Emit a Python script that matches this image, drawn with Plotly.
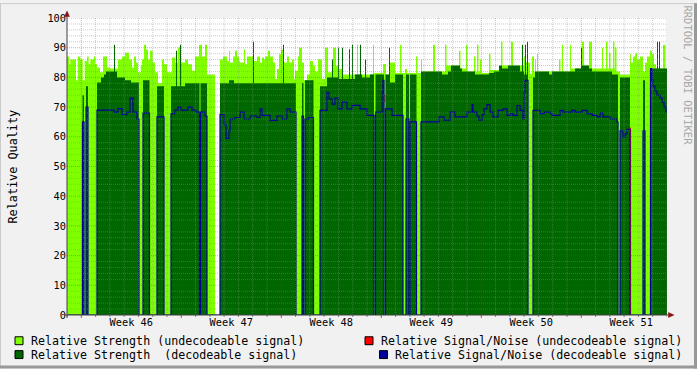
import plotly.graph_objects as go

# ---------------- data ----------------
# time axis: RRD consolidation steps (1 step = 1.68 h, 600 steps = 6 weeks)
STEP_HOURS = 1.68

week_labels = ["Week 46", "Week 47", "Week 48", "Week 49", "Week 50", "Week 51"]
week_mid_hours = [108, 276, 444, 612, 780, 948]
week_start_hours = [24, 192, 360, 528, 696, 864]
y_ticks = [0, 10, 20, 30, 40, 50, 60, 70, 80, 90, 100]

# Relative Strength (undecodeable signal) - step start / value
lg_t = [0, 2, 3.3, 9, 10.7, 13.3, 15.7, 17.7, 20, 21.7,
        23.3, 26.7, 28.3, 30, 33, 36, 40, 43, 51, 55,
        58, 62, 65, 67, 69, 71, 73.7, 75, 77, 79,
        81, 83, 85.7, 88, 91, 95, 97, 100, 105, 108,
        111, 114, 118, 121, 125, 128, 132, 135, 138, 140,
        148, 153, 156, 160, 162, 163, 166, 168, 170, 172,
        173, 177, 178, 180, 187, 190, 193, 195, 197, 198,
        201, 203, 206, 208, 210, 212, 214, 216, 220, 222,
        225, 227, 228, 231, 232, 235, 237, 240, 243, 246,
        248, 251, 255, 258, 261, 265, 266, 269, 272, 276,
        290, 291, 306, 307, 316, 319, 323, 328, 333, 334.5,
        338, 340, 349, 350.5, 354, 355, 366, 368, 378, 379.5,
        392, 393.5, 399, 400.5, 407, 408.5, 410, 411.5, 413, 414.5,
        422, 423.5, 434, 435.5, 444, 446, 457, 458.5, 463, 465,
        467, 468, 469, 470, 471, 492, 493.5, 495, 496, 503,
        504, 515, 517, 522, 525, 535, 536, 539, 540.5, 542,
        543.5, 546, 547.5, 548, 549.5, 553, 563, 564, 566, 568,
        569, 570, 573, 576, 578, 580, 583, 585, 587, 589,
        596, 598.5, 600]
lg_v = [87, 84.4, 86, 79, 87, 86, 79, 85.5, 87, 84.4,
        86, 87, 84.4, 83.3, 81.7, 87, 83.3, 83, 86, 87,
        88.3, 86, 83.3, 87, 85, 81.7, 84, 86, 91, 89.4,
        86, 89, 85, 81.7, 78, 86, 84.4, 81.7, 86.7, 85,
        90, 85, 86, 84.4, 82.2, 87, 91, 87, 91, 81,
        0, 86, 87, 85.5, 89, 85, 87, 89, 87, 85.5,
        85, 89.4, 84.4, 87, 85.5, 87, 85, 86.7, 86, 87,
        89, 87, 85, 79.5, 82.8, 87.8, 89.4, 85, 87, 85,
        86, 79.5, 82.2, 87, 90, 85, 79, 81, 85.5, 84,
        82, 86, 79.5, 90, 81.7, 82, 90, 83.9, 82.8, 81,
        91, 81, 91, 81.5, 84.5, 81, 85, 81.5, 91, 81.5,
        82.8, 81.5, 87, 81.5, 86, 82, 91, 82, 91, 84,
        89, 83, 91, 82, 87, 82, 91, 82, 86, 81.5,
        88, 82.5, 92, 84, 92, 84, 87, 85, 81.2, 87,
        82, 86, 82, 88, 82, 86, 82, 91, 82, 91,
        83, 92, 84, 92, 83, 90, 83, 92, 83, 88.3,
        83, 92, 83, 90, 82, 81, 87.8, 85, 87, 87.8,
        88.3, 86, 87, 82, 85, 87, 89, 87.8, 84.4, 83,
        91, 83, 83]

# Relative Strength (decodeable signal)
dg_t = [0, 15.5, 17, 19, 21, 30, 34, 37, 39, 47,
        48, 50, 58, 64, 72, 76, 82.5, 90, 97, 104,
        109, 110, 113, 114, 118, 132.5, 133.5, 140, 153, 162,
        167, 186, 187, 216, 217, 229, 235, 236.5, 238, 246.5,
        253, 260, 265, 266, 271, 272, 275, 276, 282, 283,
        285, 286, 288, 293, 294, 295, 298, 299, 303, 307,
        308.5, 317, 318.5, 322, 323, 328, 336, 339, 342, 343,
        349.5, 354, 375, 381, 384, 393, 395, 408, 422, 427,
        432, 435, 441, 453, 455, 456, 457, 458, 459, 460,
        461, 466, 468, 482, 485, 508, 514, 515, 522, 525,
        545, 551, 553, 563, 576, 578, 583.5, 590, 591, 592,
        593, 600]
dg_v = [0, 74, 0, 77, 0, 78.3, 80, 81, 82, 91,
        82, 80, 79, 78.3, 0, 79, 0, 77, 0, 77,
        89, 77, 91, 77, 78, 0, 78, 0, 78, 79,
        78, 92, 78, 91, 78, 0, 78, 0, 79, 0,
        77, 80, 86, 80, 90, 79.5, 90, 79.5, 89.5, 79.5,
        91, 79.5, 81, 91, 81, 80, 86, 80, 81, 0,
        81, 0, 81, 90, 78.3, 81, 0, 81, 0, 81,
        0, 82, 81, 82, 84, 83, 82, 81, 81.5, 82,
        84, 83, 84, 82, 91, 82, 81, 91, 81, 92,
        0, 80, 82, 81, 82, 83, 90, 84, 83, 82,
        81, 0, 80, 0, 79, 0, 83, 92, 83, 92,
        83, 83]

# Relative Signal/Noise (undecodeable signal)
snu_t = [317.2, 318.0, 318.1, 562.6, 563.6]
snu_v = [74, 71.7, None, 63, 0]

# Relative Signal/Noise (decodeable signal)
snd_t = [0, 15.5, 17, 19, 21, 30, 47, 51, 55, 60,
         63, 66, 70, 72, 76, 82.5, 90, 97, 104, 108,
         111, 114, 121, 125, 129, 132.5, 133.5, 138, 140, 153,
         157, 159, 162, 163, 168, 173, 177, 183, 190, 193,
         195, 203, 210, 215, 220, 223, 229, 235, 236.5, 238,
         242, 246.5, 253, 260, 262, 265, 268, 271, 275, 280,
         285, 293, 300, 307, 308.5, 315, 316, 317, 318.5, 325,
         336, 339, 342, 343, 349.5, 354, 372, 377, 383, 388,
         393, 400, 405, 406, 410, 412, 415, 417, 420, 423,
         426, 431, 436, 440, 443, 446, 450, 453, 456, 457,
         458, 461, 466, 473, 477, 483, 485, 493, 496, 505,
         508, 515, 520, 525, 530, 533, 536, 543, 550, 551,
         553, 556, 558, 560, 563, 576, 578, 583.5, 585, 586,
         588, 590, 593, 595, 597, 599, 600]
snd_v = [0, 65, 0, 70, 0, 69, 68.3, 69.5, 67.5, 68.3,
         73, 68.3, 66, 0, 68, 0, 66.7, 0, 67.8, 69,
         70, 69, 70, 69, 68.3, 0, 68.3, 67, 0, 67.5,
         64, 59.5, 62, 66, 66.5, 68.3, 66, 67, 66.5, 69.4,
         67.2, 65.5, 67, 66, 69.4, 68.3, 0, 67, 0, 66,
         66.5, 0, 68.9, 75, 72.8, 71, 73, 69.4, 71.7, 69.4,
         70.6, 69.4, 67.2, 0, 68.3, 75, 79, 0, 69.4, 67.2,
         0, 66, 0, 65, 0, 65, 66.7, 65.6, 68.3, 66.7,
         66.7, 68.3, 70.8, 68.3, 67, 65.6, 67.5, 69.4, 70.8, 68.3,
         66.7, 68.9, 69.4, 67.2, 67.8, 67.2, 70.5, 68.9, 66, 75,
         79, 0, 68.9, 67.8, 68.3, 67.8, 67.2, 68.9, 68.3, 68.9,
         68.3, 68.9, 67.8, 67.2, 66.7, 68, 66.7, 66, 65, 0,
         62, 60, 61, 62.5, 0, 62, 0, 83, 79, 77,
         75.5, 74, 73, 71.7, 70, 68.3, 68.3]

assert len(lg_t) == len(lg_v)
assert len(dg_t) == len(dg_v)
assert len(snd_t) == len(snd_v)

# ---------------- styling ----------------
C_LG = "#80FF00"
C_DG = "#006600"
C_RED = "#FF0000"
C_BLUE = "#000099"
FONT = "DejaVu Sans Mono"
X_MAX = 1008  # hours shown

def hours(steps):
    return [s * STEP_HOURS for s in steps]

fig = go.Figure()
fig.add_trace(go.Scatter(x=hours(lg_t), y=lg_v, mode="lines",
                         line=dict(shape="hv", width=0, color=C_LG),
                         fill="tozeroy", fillcolor=C_LG, hoverinfo="skip"))
fig.add_trace(go.Scatter(x=hours(dg_t), y=dg_v, mode="lines",
                         line=dict(shape="hv", width=0, color=C_DG),
                         fill="tozeroy", fillcolor=C_DG, hoverinfo="skip"))
fig.add_trace(go.Scatter(x=hours(snu_t), y=snu_v, mode="lines",
                         line=dict(shape="hv", width=1, color=C_RED),
                         connectgaps=False, hoverinfo="skip"))
fig.add_trace(go.Scatter(x=hours(snd_t), y=snd_v, mode="lines",
                         line=dict(shape="hv", width=1.2, color=C_BLUE),
                         hoverinfo="skip"))

L, T, W, H = 67, 15, 600, 300

def px(xp):
    return (xp - L) / W

def py(yp):
    return (T + H - yp) / H

shapes = []
GRID = "rgba(140,140,140,0.45)"
MGRID = "rgba(170,40,40,0.40)"
DASH = "1px,1px"
# vertical grid (days / weeks)
for h in range(24, X_MAX + 1, 24):
    major = (h - 24) % 168 == 0
    shapes.append(dict(type="line", xref="x", yref="y", x0=h, x1=h, y0=0, y1=100,
                       layer="above", line=dict(color=MGRID if major else GRID, width=1, dash=DASH)))
# horizontal grid
for v in range(2, 101, 2):
    major = v % 10 == 0
    shapes.append(dict(type="line", xref="x", yref="y", x0=0, x1=X_MAX, y0=v, y1=v,
                       layer="above", line=dict(color=MGRID if major else GRID, width=1, dash=DASH)))
# x tick marks
for h in range(0, X_MAX + 1, 24):
    major = (h - 24) % 168 == 0
    shapes.append(dict(type="line", xref="x", yref="paper", x0=h, x1=h,
                       y0=py(315), y1=py(318 if major else 317),
                       line=dict(color="#B05050" if major else "#808080", width=1)))
# axis lines
AX = "#404040"
shapes.append(dict(type="line", xref="paper", yref="paper", x0=px(67), x1=px(67),
                   y0=py(318), y1=py(10), line=dict(color=AX, width=1)))
shapes.append(dict(type="line", xref="paper", yref="paper", x0=px(64), x1=px(671),
                   y0=py(315), y1=py(315), line=dict(color=AX, width=1)))
# arrows
ARW = "#8B1010"
shapes.append(dict(type="path", xref="paper", yref="paper", fillcolor=ARW, line=dict(color=ARW, width=0.5),
                   path=f"M {px(64.5)} {py(13.5)} L {px(67)} {py(8)} L {px(69.5)} {py(13.5)} Z"))
shapes.append(dict(type="path", xref="paper", yref="paper", fillcolor=ARW, line=dict(color=ARW, width=0.5),
                   path=f"M {px(668.5)} {py(312.5)} L {px(674)} {py(315)} L {px(668.5)} {py(317.5)} Z"))
# frame shading
shapes.append(dict(type="line", xref="paper", yref="paper", x0=px(0), x1=px(697), y0=py(0.5), y1=py(0.5),
                   line=dict(color="#CBCBCB", width=1)))
shapes.append(dict(type="line", xref="paper", yref="paper", x0=px(0.5), x1=px(0.5), y0=py(0), y1=py(369),
                   line=dict(color="#CBCBCB", width=1)))
shapes.append(dict(type="line", xref="paper", yref="paper", x0=px(695.5), x1=px(695.5), y0=py(0), y1=py(369),
                   line=dict(color="#999999", width=3)))
shapes.append(dict(type="line", xref="paper", yref="paper", x0=px(0), x1=px(697), y0=py(367.5), y1=py(367.5),
                   line=dict(color="#999999", width=3)))

# legend boxes
legend_items = [
    (15, 337, C_LG), (15, 351, C_DG), (365, 337, C_RED), (379.5, 351, C_BLUE)
]
for bx, by, col in legend_items:
    shapes.append(dict(type="rect", xref="paper", yref="paper", x0=px(bx), x1=px(bx + 8),
                       y0=py(by), y1=py(by + 8), fillcolor=col, line=dict(color="#000000", width=1)))

annotations = [
    dict(text="Relative Quality", xref="paper", yref="paper", x=px(12), y=py(165),
         textangle=-90, showarrow=False, font=dict(family=FONT, size=11.8, color="#000"),
         xanchor="center", yanchor="middle"),
    dict(text="RRDTOOL / TOBI OETIKER", xref="paper", yref="paper", x=px(688), y=py(73),
         textangle=90, showarrow=False, font=dict(family=FONT, size=10.5, color="#A8A8A8"),
         xanchor="center", yanchor="middle"),
]
legend_texts = [
    (28.5, 341, "Relative Strength (undecodeable signal)"),
    (28.5, 355, "Relative Strength \u00a0(decodeable signal)"),
    (378.5, 341, "Relative Signal/Noise (undecodeable signal)"),
    (392.5, 355, "Relative Signal/Noise (decodeable signal)"),
]
for tx, ty, txt in legend_texts:
    annotations.append(dict(text=txt, xref="paper", yref="paper", x=px(tx), y=py(ty),
                            xanchor="left", yanchor="middle", showarrow=False,
                            font=dict(family=FONT, size=11.65, color="#000")))

fig.update_layout(
    width=697, height=369, autosize=False,
    margin=dict(l=L, r=697 - L - W, t=T, b=369 - T - H, pad=0),
    paper_bgcolor="#F1F1F1", plot_bgcolor="#FFFFFF",
    showlegend=False,
    font=dict(family=FONT, color="#000000"),
    shapes=shapes, annotations=annotations,
    xaxis=dict(range=[0, X_MAX], tickmode="array", tickvals=week_mid_hours, ticktext=week_labels,
               showgrid=False, zeroline=False, ticks="", showline=False,
               tickfont=dict(family=FONT, size=10.3, color="#000"), fixedrange=True),
    yaxis=dict(range=[0, 100], tickmode="array", tickvals=y_ticks,
               ticktext=[str(v) for v in y_ticks],
               showgrid=False, zeroline=False, ticks="", showline=False,
               tickfont=dict(family=FONT, size=10.3, color="#000"), fixedrange=True),
)

fig.write_html("out.html")
